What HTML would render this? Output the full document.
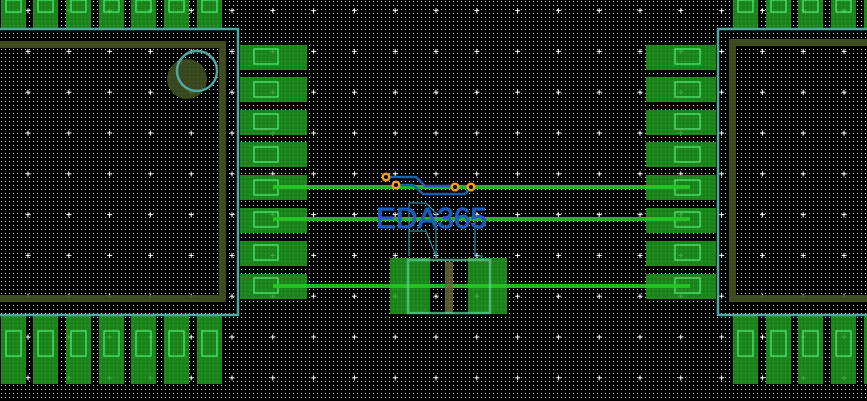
<!DOCTYPE html>
<html><head><style>html,body{margin:0;padding:0;background:#000;overflow:hidden}</style></head>
<body>
<svg width="867" height="401" xmlns="http://www.w3.org/2000/svg" style="display:block">
<defs>
<pattern id="dots" width="4" height="4" patternUnits="userSpaceOnUse" x="1" y="1"><rect x="0" y="0" width="1" height="1" fill="#ddd"/></pattern>
<pattern id="cross" width="40.8" height="40.8" patternUnits="userSpaceOnUse" x="7.6" y="-9.8"><path d="M20.4 18v5M18 20.4h5" stroke="#fff" stroke-width="1"/></pattern>
</defs>
<rect width="867" height="401" fill="#000"/>
<rect width="867" height="401" fill="url(#dots)"/>
<rect width="867" height="401" fill="url(#cross)"/>
<g fill="#1e9a1e" fill-opacity="0.85">
<rect x="1" y="0" width="25" height="28"/><rect x="33" y="0" width="25" height="28"/><rect x="66" y="0" width="25" height="28"/><rect x="99" y="0" width="25" height="28"/><rect x="131" y="0" width="25" height="28"/><rect x="164" y="0" width="25" height="28"/><rect x="197" y="0" width="25" height="28"/>
<rect x="1" y="316" width="25" height="68"/><rect x="33" y="316" width="25" height="68"/><rect x="66" y="316" width="25" height="68"/><rect x="99" y="316" width="25" height="68"/><rect x="131" y="316" width="25" height="68"/><rect x="164" y="316" width="25" height="68"/><rect x="197" y="316" width="25" height="68"/>
<rect x="733" y="0" width="25" height="28"/><rect x="766" y="0" width="25" height="28"/><rect x="798" y="0" width="25" height="28"/><rect x="831" y="0" width="25" height="28"/><rect x="864" y="0" width="5" height="28"/>
<rect x="733" y="316" width="25" height="68"/><rect x="766" y="316" width="25" height="68"/><rect x="798" y="316" width="25" height="68"/><rect x="831" y="316" width="25" height="68"/><rect x="864" y="316" width="5" height="68"/>
<rect x="240" y="45" width="67" height="25"/><rect x="240" y="77" width="67" height="25"/><rect x="240" y="110" width="67" height="25"/><rect x="240" y="142" width="67" height="25"/><rect x="240" y="175" width="67" height="25"/><rect x="240" y="208" width="67" height="25"/><rect x="240" y="241" width="67" height="25"/><rect x="240" y="274" width="67" height="25"/>
<rect x="646" y="45" width="70" height="25"/><rect x="646" y="77" width="70" height="25"/><rect x="646" y="110" width="70" height="25"/><rect x="646" y="142" width="70" height="25"/><rect x="646" y="175" width="70" height="25"/><rect x="646" y="208" width="70" height="25"/><rect x="646" y="241" width="70" height="25"/><rect x="646" y="274" width="70" height="25"/>
<rect x="390" y="258" width="40" height="56"/><rect x="468" y="258" width="39" height="56"/>
</g>
<g fill="none" stroke="#4ff07a" stroke-width="1.2">
<rect x="6" y="0" width="15" height="12"/><rect x="38" y="0" width="15" height="12"/><rect x="71" y="0" width="15" height="12"/><rect x="104" y="0" width="15" height="12"/><rect x="136" y="0" width="15" height="12"/><rect x="169" y="0" width="15" height="12"/><rect x="202" y="0" width="15" height="12"/>
<rect x="6" y="331" width="15" height="25"/><rect x="38" y="331" width="15" height="25"/><rect x="71" y="331" width="15" height="25"/><rect x="104" y="331" width="15" height="25"/><rect x="136" y="331" width="15" height="25"/><rect x="169" y="331" width="15" height="25"/><rect x="202" y="331" width="15" height="25"/>
<rect x="738" y="0" width="15" height="12"/><rect x="771" y="0" width="15" height="12"/><rect x="803" y="0" width="15" height="12"/><rect x="836" y="0" width="15" height="12"/>
<rect x="738" y="331" width="15" height="25"/><rect x="771" y="331" width="15" height="25"/><rect x="803" y="331" width="15" height="25"/><rect x="836" y="331" width="15" height="25"/>
<rect x="254" y="49" width="24" height="15"/><rect x="254" y="82" width="24" height="15"/><rect x="254" y="114" width="24" height="15"/><rect x="254" y="147" width="24" height="15"/><rect x="254" y="180" width="24" height="15"/><rect x="254" y="212" width="24" height="15"/><rect x="254" y="245" width="24" height="15"/><rect x="254" y="278" width="24" height="15"/>
<rect x="675" y="49" width="25" height="15"/><rect x="675" y="82" width="25" height="15"/><rect x="675" y="114" width="25" height="15"/><rect x="675" y="147" width="25" height="15"/><rect x="675" y="180" width="25" height="15"/><rect x="675" y="212" width="25" height="15"/><rect x="675" y="245" width="25" height="15"/><rect x="675" y="278" width="25" height="15"/>
</g>
<g stroke="#24c824" stroke-width="4" opacity="0.9">
<line x1="273" y1="187" x2="690" y2="187"/><line x1="273" y1="219" x2="690" y2="219"/><line x1="273" y1="286" x2="690" y2="286"/>
</g>
<g stroke="#3f4f22" stroke-width="7" fill="none" opacity="0.95">
<path d="M0 44.5H222.5V298.5H0"/><path d="M867 42.5H732.5V298.5H867"/>
</g>
<circle cx="187" cy="79" r="20" fill="#3f4f22" opacity="0.9"/>
<rect x="445" y="262" width="8" height="52" fill="#6a6a3a" opacity="0.8"/>
<g stroke="#4fa8a0" stroke-width="2.5" fill="none">
<path d="M0 29H238V315H0"/><path d="M867 29H718V315H867"/>
<circle cx="197" cy="71" r="20"/>
<rect x="408" y="260" width="82" height="53" stroke="#5fd0a0" stroke-opacity="0.7"/>
</g>
<g stroke="#2aa8c0" stroke-width="1" fill="none">
<path d="M409 256V203H426L436 213V256"/><path d="M409 231H426L436 256"/><path d="M475 216V256H483"/>
</g>
<g stroke="#1a5fb0" stroke-width="2.5" fill="none">
<path d="M386 177H416L425 186H455"/><path d="M396 185H413L423 194H465L471 187"/>
</g>
<g fill="#000" stroke="#f0a020" stroke-width="2.5">
<circle cx="386" cy="177" r="3.3"/><circle cx="396" cy="185" r="3.3"/><circle cx="455" cy="187" r="3.3"/><circle cx="471" cy="187" r="3.3"/>
</g>
<text x="376" y="228" font-family="Liberation Sans, sans-serif" font-size="29" fill="#1a5fc0" stroke="#1a5fc0" stroke-width="1" fill-opacity="0.95" textLength="111" lengthAdjust="spacingAndGlyphs">EDA365</text>
</svg>
</body></html>
